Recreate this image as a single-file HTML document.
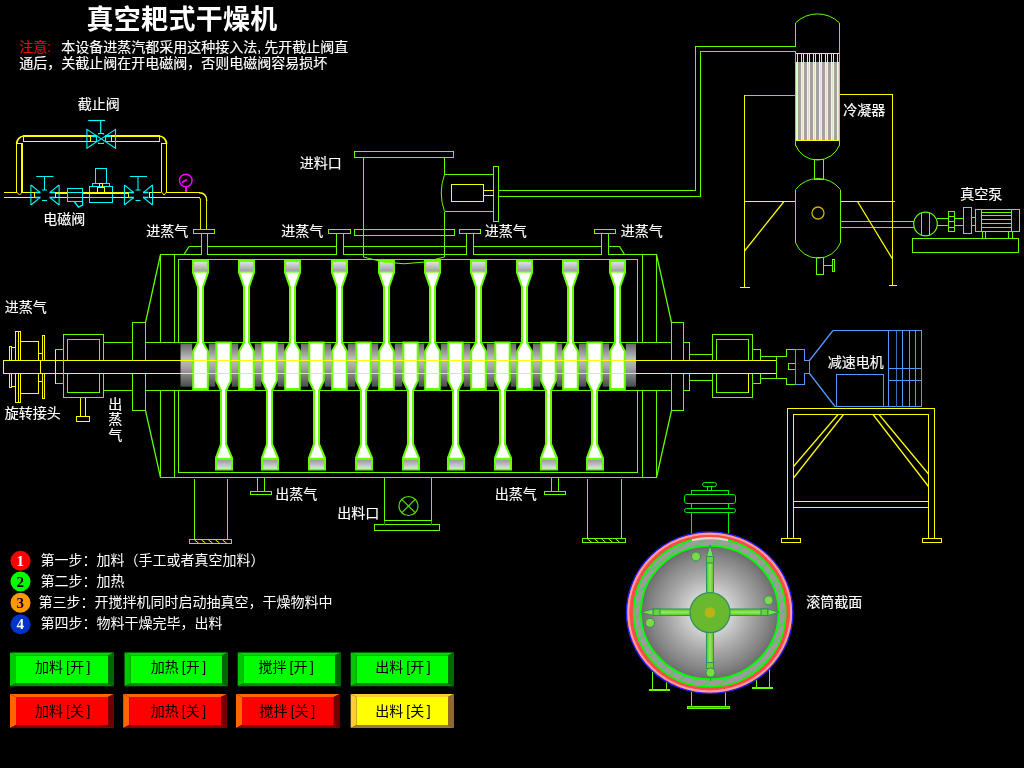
<!DOCTYPE html>
<html lang="zh-CN">
<head>
<meta charset="utf-8">
<title>真空耙式干燥机</title>
<style>
html,body{margin:0;padding:0;background:#000;overflow:hidden;}
body{width:1024px;height:768px;position:relative;font-family:"Liberation Sans", "Noto Sans CJK SC", sans-serif;}
svg{position:absolute;left:0;top:0;display:block;will-change:transform;}
svg text{font-family:"Liberation Sans", "Noto Sans CJK SC", sans-serif;white-space:pre;}
.crisp{shape-rendering:crispEdges;}
</style>
</head>
<body>
<svg width="1024" height="768" viewBox="0 0 1024 768">
<defs>
<linearGradient id="gDrum" x1="0" y1="0" x2="0" y2="1">
<stop offset="0" stop-color="#666666"/><stop offset="0.36" stop-color="#c0c0c0"/><stop offset="0.55" stop-color="#a6a6a6"/><stop offset="1" stop-color="#4a4a4a"/>
</linearGradient>
<linearGradient id="gHead" x1="0" y1="0" x2="0" y2="1">
<stop offset="0" stop-color="#e0e0e0"/><stop offset="1" stop-color="#a2a2a2"/>
</linearGradient>
<linearGradient id="gFoot" x1="0" y1="0" x2="0" y2="1">
<stop offset="0" stop-color="#969696"/><stop offset="1" stop-color="#dedede"/>
</linearGradient>
<radialGradient id="gBall" cx="0.5" cy="0.5" r="0.5">
<stop offset="0" stop-color="#e8e8e8"/><stop offset="0.3" stop-color="#d2d2d2"/><stop offset="0.6" stop-color="#a6a6a6"/><stop offset="0.85" stop-color="#848484"/><stop offset="1" stop-color="#6c6c6c"/>
</radialGradient>
<linearGradient id="gArmV" x1="0" y1="0" x2="1" y2="0">
<stop offset="0" stop-color="#5cc02c"/><stop offset="0.5" stop-color="#90ee50"/><stop offset="1" stop-color="#5cc02c"/>
</linearGradient>
<linearGradient id="gArmH" x1="0" y1="0" x2="0" y2="1">
<stop offset="0" stop-color="#5cc02c"/><stop offset="0.5" stop-color="#90ee50"/><stop offset="1" stop-color="#5cc02c"/>
</linearGradient>
<pattern id="hatch" width="9.5" height="9.5" patternUnits="userSpaceOnUse" patternTransform="rotate(-38)">
<rect x="0" y="0" width="9.5" height="9.5" fill="#9c9c9c"/><line x1="0" y1="4.5" x2="9.5" y2="4.5" stroke="#18e830" stroke-width="0.9"/>
</pattern>
</defs>
<rect x="0" y="0" width="1024" height="768" fill="#000"/>
<text x="86.5" y="29.3" font-size="27" fill="#ffffff" font-weight="bold" letter-spacing="0.3">真空耙式干燥机</text>
<g transform="translate(-0.3,-0.5)" stroke-width="0.15">
<text y="52.5" font-size="14" fill="#ffffff" stroke="#ffffff"><tspan x="19.5" fill="#ff0000" stroke="#ff0000">注意:</tspan><tspan x="61.5">本设备进蒸汽都采用这种接入法</tspan><tspan x="257.5">,</tspan><tspan x="264.5">先开截止阀直</tspan></text>
<g stroke="#ffffff">
<text x="19.5" y="68.5" font-size="14" fill="#ffffff">通后，关截止阀在开电磁阀，否则电磁阀容易损坏</text>
<text x="78" y="109.5" font-size="14" fill="#ffffff">截止阀</text>
<text x="43.5" y="224.5" font-size="14" fill="#ffffff">电磁阀</text>
<text x="146.5" y="236.5" font-size="14" fill="#ffffff">进蒸气</text>
<text x="281.5" y="236.5" font-size="14" fill="#ffffff">进蒸气</text>
<text x="485" y="236.5" font-size="14" fill="#ffffff">进蒸气</text>
<text x="621" y="236.5" font-size="14" fill="#ffffff">进蒸气</text>
<text x="300" y="168.5" font-size="14" fill="#ffffff">进料口</text>
<text x="5" y="312.5" font-size="14" fill="#ffffff">进蒸气</text>
<text x="5" y="418.5" font-size="14" fill="#ffffff">旋转接头</text>
<text x="108.5" font-size="14" fill="#ffffff"><tspan x="108.5" y="409">出</tspan><tspan x="108.5" y="424.5">蒸</tspan><tspan x="108.5" y="440.5">气</tspan></text>
<text x="275.5" y="499.5" font-size="14" fill="#ffffff">出蒸气</text>
<text x="495" y="499.5" font-size="14" fill="#ffffff">出蒸气</text>
<text x="337.5" y="518" font-size="14" fill="#ffffff">出料口</text>
<text x="843.5" y="115.5" font-size="14" fill="#ffffff">冷凝器</text>
<text x="960.5" y="199.5" font-size="14" fill="#ffffff">真空泵</text>
<text x="828" y="367.5" font-size="14" fill="#ffffff">减速电机</text>
<text x="806.5" y="607.5" font-size="14" fill="#ffffff">滚筒截面</text>
</g></g>
<g class="crisp">
<rect x="24" y="135" width="67" height="2" fill="#ffff00"/>
<rect x="24" y="141" width="67" height="1" fill="#ffff00"/>
<rect x="23" y="135" width="1" height="7" fill="#ffff00"/>
<rect x="90" y="135" width="1" height="7" fill="#ffff00"/>
<rect x="111" y="135" width="48" height="2" fill="#ffff00"/>
<rect x="111" y="141" width="48" height="1" fill="#ffff00"/>
<rect x="111" y="135" width="1" height="7" fill="#ffff00"/>
<rect x="159" y="135" width="1" height="7" fill="#ffff00"/>
<rect x="16" y="143" width="1" height="50" fill="#ffff00"/>
<rect x="21" y="143" width="2" height="50" fill="#ffff00"/>
<rect x="16" y="143" width="7" height="1" fill="#ffff00"/>
<rect x="161" y="143" width="1" height="49" fill="#ffff00"/>
<rect x="166" y="143" width="1" height="50" fill="#ffff00"/>
<rect x="161" y="143" width="6" height="1" fill="#ffff00"/>
<rect x="4" y="192" width="12" height="1" fill="#ffff00"/>
<rect x="23" y="192" width="12" height="1" fill="#ffff00"/>
<rect x="4" y="196.5" width="31" height="1.5" fill="#ffff00"/>
<rect x="34" y="192" width="1" height="6" fill="#ffff00"/>
<rect x="55" y="192" width="12" height="1.5" fill="#ffff00"/>
<rect x="55" y="196.5" width="12" height="1.5" fill="#ffff00"/>
<rect x="55" y="192" width="1" height="6" fill="#ffff00"/>
<rect x="82" y="192" width="8" height="1.5" fill="#ffff00"/>
<rect x="82" y="196.5" width="8" height="1.5" fill="#ffff00"/>
<rect x="113" y="192" width="15.5" height="1.5" fill="#ffff00"/>
<rect x="113" y="196.5" width="15.5" height="1.5" fill="#ffff00"/>
<rect x="127.5" y="192" width="1" height="6" fill="#ffff00"/>
<rect x="148.5" y="192" width="12.5" height="1.2" fill="#ffff00"/>
<rect x="167" y="192" width="33" height="1.2" fill="#ffff00"/>
<rect x="148.5" y="196.5" width="51.5" height="1.5" fill="#ffff00"/>
<rect x="148.5" y="192" width="1" height="6" fill="#ffff00"/>
<rect x="200" y="200" width="1" height="29" fill="#e8e800"/>
<rect x="206" y="200" width="1" height="29" fill="#e8e800"/>
</g>
<path d="M16.7,144 A7.3,8 0 0 1 24,136" stroke="#ffff00" stroke-width="1.7" fill="none"/>
<path d="M159,136 A7.5,8 0 0 1 166.5,144" stroke="#ffff00" stroke-width="1.7" fill="none"/>
<path d="M199,192.7 Q206.7,192.7 206.7,201" stroke="#ffff00" stroke-width="1.4" fill="none"/>
<path d="M199,197.5 Q200.5,197.5 200.5,200" stroke="#ffff00" stroke-width="1" fill="none"/>
<polyline points="16.5,192 19.5,195 22.5,192" stroke="#ffff00" stroke-width="1" fill="none"/>
<polyline points="161.5,192 164,195 166.5,192" stroke="#ffff00" stroke-width="1" fill="none"/>
<polygon points="86.9,129.4 86.9,148.2 115.5,129.4 115.5,148.2" stroke="#00ffff" stroke-width="1.1" fill="none"/>
<line x1="88.2" y1="120.5" x2="105.2" y2="120.5" stroke="#00ffff" stroke-width="1.2"/>
<line x1="100.7" y1="120.5" x2="100.7" y2="133.3" stroke="#00ffff" stroke-width="1.2"/>
<circle cx="101" cy="138.5" r="5" stroke="#00b8b8" stroke-width="1" fill="none" stroke-dasharray="2.5 1.5"/>
<g class="crisp">
<rect x="91" y="135" width="5" height="2" fill="#00ffff"/>
<rect x="91" y="141" width="5" height="1" fill="#00ffff"/>
<rect x="106" y="135" width="5" height="2" fill="#00ffff"/>
<rect x="106" y="141" width="5" height="1" fill="#00ffff"/>
<rect x="96" y="135" width="1" height="7" fill="#00ffff"/>
<rect x="105" y="135" width="1" height="7" fill="#00ffff"/>
<rect x="98" y="133" width="6" height="1" fill="#00ffff"/>
<rect x="98" y="143" width="6" height="1" fill="#00ffff"/>
</g>
<line x1="30.9" y1="185" x2="30.9" y2="205" stroke="#00ffff" stroke-width="1.05"/>
<line x1="59.1" y1="185" x2="59.1" y2="205" stroke="#00ffff" stroke-width="1.05"/>
<line x1="30.9" y1="185" x2="40" y2="192.3" stroke="#00ffff" stroke-width="1.05"/>
<line x1="30.9" y1="205" x2="40" y2="197.6" stroke="#00ffff" stroke-width="1.05"/>
<line x1="59.1" y1="185" x2="50" y2="192.3" stroke="#00ffff" stroke-width="1.05"/>
<line x1="59.1" y1="205" x2="50" y2="197.6" stroke="#00ffff" stroke-width="1.05"/>
<line x1="35" y1="192.5" x2="40.5" y2="192.5" stroke="#00ffff" stroke-width="1.6"/>
<line x1="35" y1="197.5" x2="40.5" y2="197.5" stroke="#00ffff" stroke-width="1.6"/>
<line x1="49.5" y1="192.5" x2="55" y2="192.5" stroke="#00ffff" stroke-width="1.6"/>
<line x1="49.5" y1="197.5" x2="55" y2="197.5" stroke="#00ffff" stroke-width="1.6"/>
<line x1="36.3" y1="176.5" x2="53.5" y2="176.5" stroke="#00ffff" stroke-width="1.05"/>
<line x1="44.5" y1="176.5" x2="44.5" y2="190" stroke="#00ffff" stroke-width="1.05"/>
<line x1="42" y1="190" x2="47" y2="190" stroke="#00ffff" stroke-width="1.05"/>
<line x1="42" y1="200.5" x2="47" y2="200.5" stroke="#00ffff" stroke-width="1.05"/>
<line x1="124.4" y1="185" x2="124.4" y2="205" stroke="#00ffff" stroke-width="1.05"/>
<line x1="152.6" y1="185" x2="152.6" y2="205" stroke="#00ffff" stroke-width="1.05"/>
<line x1="124.4" y1="185" x2="133.5" y2="192.3" stroke="#00ffff" stroke-width="1.05"/>
<line x1="124.4" y1="205" x2="133.5" y2="197.6" stroke="#00ffff" stroke-width="1.05"/>
<line x1="152.6" y1="185" x2="143.5" y2="192.3" stroke="#00ffff" stroke-width="1.05"/>
<line x1="152.6" y1="205" x2="143.5" y2="197.6" stroke="#00ffff" stroke-width="1.05"/>
<line x1="128.5" y1="192.5" x2="134" y2="192.5" stroke="#00ffff" stroke-width="1.6"/>
<line x1="128.5" y1="197.5" x2="134" y2="197.5" stroke="#00ffff" stroke-width="1.6"/>
<line x1="143" y1="192.5" x2="148.5" y2="192.5" stroke="#00ffff" stroke-width="1.6"/>
<line x1="143" y1="197.5" x2="148.5" y2="197.5" stroke="#00ffff" stroke-width="1.6"/>
<line x1="129.8" y1="176.5" x2="147" y2="176.5" stroke="#00ffff" stroke-width="1.05"/>
<line x1="138" y1="176.5" x2="138" y2="190" stroke="#00ffff" stroke-width="1.05"/>
<line x1="135.5" y1="190" x2="140.5" y2="190" stroke="#00ffff" stroke-width="1.05"/>
<line x1="135.5" y1="200.5" x2="140.5" y2="200.5" stroke="#00ffff" stroke-width="1.05"/>
<g class="crisp">
<rect x="67.5" y="188.5" width="15" height="13" stroke="#00ffff" stroke-width="1" fill="none"/>
<line x1="67.5" y1="197.5" x2="82.5" y2="197.5" stroke="#00ffff" stroke-width="1"/>
<line x1="67.5" y1="192.5" x2="82.5" y2="192.5" stroke="#00ffff" stroke-width="1"/>
</g>
<polyline points="74.3,201.5 78.4,207.2 82.6,205 82.6,201.5" stroke="#00ffff" stroke-width="1.3" fill="none"/>
<g class="crisp">
<rect x="89.5" y="186.5" width="23" height="16" stroke="#00ffff" stroke-width="1" fill="none"/>
<line x1="89.5" y1="197.5" x2="112.5" y2="197.5" stroke="#00ffff" stroke-width="1"/>
<rect x="89" y="192" width="24" height="2" fill="#ffff00"/>
<rect x="95.5" y="168.5" width="11" height="15" stroke="#00ffff" stroke-width="1" fill="none"/>
<rect x="92.5" y="183.5" width="17" height="3" stroke="#00ffff" stroke-width="1" fill="none"/>
<rect x="97.5" y="187.5" width="7" height="5" stroke="#ffff00" stroke-width="1" fill="none"/>
<rect x="99.5" y="183.5" width="3" height="4" stroke="#ffff00" stroke-width="1" fill="none"/>
</g>
<circle cx="185.8" cy="180.5" r="6.3" stroke="#ff00ff" stroke-width="1.4" fill="none"/>
<line x1="182" y1="182.5" x2="187" y2="179.5" stroke="#ff00ff" stroke-width="1.6"/>
<rect x="185" y="187" width="2" height="5" fill="#ff00ff" class="crisp"/>
<g class="crisp">
<rect x="193.5" y="229.5" width="21" height="4" stroke="#66ff00" stroke-width="1" fill="none"/>
<line x1="201.5" y1="233.5" x2="201.5" y2="255" stroke="#66ff00" stroke-width="1"/>
<line x1="207.5" y1="233.5" x2="207.5" y2="255" stroke="#66ff00" stroke-width="1"/>
<rect x="328.5" y="229.5" width="21.5" height="4" stroke="#66ff00" stroke-width="1" fill="none"/>
<line x1="336.5" y1="233.5" x2="336.5" y2="255" stroke="#66ff00" stroke-width="1"/>
<line x1="343.5" y1="233.5" x2="343.5" y2="255" stroke="#66ff00" stroke-width="1"/>
<rect x="459.5" y="229.5" width="20.5" height="4" stroke="#66ff00" stroke-width="1" fill="none"/>
<line x1="466.5" y1="233.5" x2="466.5" y2="255" stroke="#66ff00" stroke-width="1"/>
<line x1="473.5" y1="233.5" x2="473.5" y2="255" stroke="#66ff00" stroke-width="1"/>
<rect x="594.5" y="229.5" width="21" height="4" stroke="#66ff00" stroke-width="1" fill="none"/>
<line x1="601.5" y1="233.5" x2="601.5" y2="255" stroke="#66ff00" stroke-width="1"/>
<line x1="608.5" y1="233.5" x2="608.5" y2="255" stroke="#66ff00" stroke-width="1"/>
<line x1="189" y1="246.5" x2="201.5" y2="246.5" stroke="#66ff00" stroke-width="1"/>
<line x1="207.5" y1="246.5" x2="336.5" y2="246.5" stroke="#66ff00" stroke-width="1"/>
<line x1="343.5" y1="246.5" x2="466.5" y2="246.5" stroke="#66ff00" stroke-width="1"/>
<line x1="473.5" y1="246.5" x2="601.5" y2="246.5" stroke="#66ff00" stroke-width="1"/>
<line x1="608.5" y1="246.5" x2="619.5" y2="246.5" stroke="#66ff00" stroke-width="1"/>
<line x1="160" y1="254.5" x2="201.5" y2="254.5" stroke="#66ff00" stroke-width="1"/>
<line x1="207.5" y1="254.5" x2="336.5" y2="254.5" stroke="#66ff00" stroke-width="1"/>
<line x1="343.5" y1="254.5" x2="466.5" y2="254.5" stroke="#66ff00" stroke-width="1"/>
<line x1="473.5" y1="254.5" x2="601.5" y2="254.5" stroke="#66ff00" stroke-width="1"/>
<line x1="608.5" y1="254.5" x2="657" y2="254.5" stroke="#66ff00" stroke-width="1"/>
<line x1="160" y1="477.5" x2="657" y2="477.5" stroke="#66ff00" stroke-width="1"/>
<line x1="178" y1="259.5" x2="638" y2="259.5" stroke="#66ff00" stroke-width="1"/>
<line x1="178" y1="472.5" x2="638" y2="472.5" stroke="#66ff00" stroke-width="1"/>
<line x1="160.5" y1="254.5" x2="160.5" y2="342.5" stroke="#66ff00" stroke-width="1"/>
<line x1="160.5" y1="390.5" x2="160.5" y2="477.5" stroke="#66ff00" stroke-width="1"/>
<line x1="174.5" y1="254.5" x2="174.5" y2="342.5" stroke="#66ff00" stroke-width="1"/>
<line x1="174.5" y1="390.5" x2="174.5" y2="477.5" stroke="#66ff00" stroke-width="1"/>
<line x1="178.5" y1="259.5" x2="178.5" y2="342.5" stroke="#66ff00" stroke-width="1"/>
<line x1="178.5" y1="390.5" x2="178.5" y2="472.5" stroke="#66ff00" stroke-width="1"/>
<line x1="637.5" y1="259.5" x2="637.5" y2="342.5" stroke="#66ff00" stroke-width="1"/>
<line x1="637.5" y1="390.5" x2="637.5" y2="472.5" stroke="#66ff00" stroke-width="1"/>
<line x1="642.5" y1="254.5" x2="642.5" y2="342.5" stroke="#66ff00" stroke-width="1"/>
<line x1="642.5" y1="390.5" x2="642.5" y2="477.5" stroke="#66ff00" stroke-width="1"/>
<line x1="656.5" y1="254.5" x2="656.5" y2="342.5" stroke="#66ff00" stroke-width="1"/>
<line x1="656.5" y1="390.5" x2="656.5" y2="477.5" stroke="#66ff00" stroke-width="1"/>
<line x1="104" y1="342.5" x2="132.5" y2="342.5" stroke="#66ff00" stroke-width="1"/>
<line x1="145.5" y1="342.5" x2="671.5" y2="342.5" stroke="#66ff00" stroke-width="1"/>
<line x1="683.5" y1="342.5" x2="690" y2="342.5" stroke="#66ff00" stroke-width="1"/>
<line x1="104" y1="390.5" x2="132.5" y2="390.5" stroke="#66ff00" stroke-width="1"/>
<line x1="145.5" y1="390.5" x2="671.5" y2="390.5" stroke="#66ff00" stroke-width="1"/>
<line x1="683.5" y1="390.5" x2="690" y2="390.5" stroke="#66ff00" stroke-width="1"/>
<rect x="132.5" y="322.5" width="13" height="88" stroke="#66ff00" stroke-width="1" fill="none"/>
<rect x="671.5" y="322.5" width="12" height="88" stroke="#66ff00" stroke-width="1" fill="none"/>
<line x1="689.5" y1="342.5" x2="689.5" y2="390.5" stroke="#66ff00" stroke-width="1"/>
<line x1="689.5" y1="354.5" x2="712.5" y2="354.5" stroke="#66ff00" stroke-width="1"/>
<line x1="689.5" y1="380.5" x2="712.5" y2="380.5" stroke="#66ff00" stroke-width="1"/>
<rect x="63.5" y="334.5" width="40" height="63" stroke="#66ff00" stroke-width="1" fill="none"/>
<rect x="67.5" y="339.5" width="32" height="53" stroke="#66ff00" stroke-width="1" fill="none"/>
<rect x="55.5" y="349.5" width="8" height="34" stroke="#66ff00" stroke-width="1" fill="none"/>
<rect x="712.5" y="334.5" width="40" height="63" stroke="#66ff00" stroke-width="1" fill="none"/>
<rect x="716.5" y="339.5" width="32" height="53" stroke="#66ff00" stroke-width="1" fill="none"/>
<rect x="752.5" y="349.5" width="8" height="34" stroke="#66ff00" stroke-width="1" fill="none"/>
<line x1="748.5" y1="373.5" x2="748.5" y2="392.5" stroke="#ffff00" stroke-width="1"/>
<polyline points="760.5,356.5 786.5,356.5 786.5,349.5 795,349.5" stroke="#66ff00" stroke-width="1" fill="none"/>
<polyline points="760.5,378.5 786.5,378.5 786.5,384.5 795,384.5" stroke="#66ff00" stroke-width="1" fill="none"/>
<line x1="776.5" y1="356.5" x2="776.5" y2="378.5" stroke="#66ff00" stroke-width="1"/>
<polyline points="795,363.5 788.5,363.5 788.5,369.5 795,369.5" stroke="#66ff00" stroke-width="1" fill="none"/>
</g>
<line x1="160.5" y1="254.5" x2="145.5" y2="322.5" stroke="#66ff00" stroke-width="1.25"/>
<line x1="145.5" y1="410.5" x2="160.5" y2="477.5" stroke="#66ff00" stroke-width="1.25"/>
<line x1="656.5" y1="254.5" x2="671.5" y2="322.5" stroke="#66ff00" stroke-width="1.25"/>
<line x1="671.5" y1="410.5" x2="656.5" y2="477.5" stroke="#66ff00" stroke-width="1.25"/>
<line x1="189" y1="246.5" x2="184" y2="254.5" stroke="#66ff00" stroke-width="1.25"/>
<line x1="619.5" y1="246.5" x2="624.5" y2="254.5" stroke="#66ff00" stroke-width="1.25"/>
<rect x="180.5" y="343.5" width="455.5" height="43.2" fill="url(#gDrum)"/>
<rect x="192.2" y="343" width="16.6" height="8.5" fill="#000"/>
<rect x="238.2" y="343" width="16.6" height="8.5" fill="#000"/>
<rect x="284.2" y="343" width="16.6" height="8.5" fill="#000"/>
<rect x="331.2" y="343" width="16.6" height="8.5" fill="#000"/>
<rect x="378.2" y="343" width="16.6" height="8.5" fill="#000"/>
<rect x="424.2" y="343" width="16.6" height="8.5" fill="#000"/>
<rect x="470.2" y="343" width="16.6" height="8.5" fill="#000"/>
<rect x="516.2" y="343" width="16.6" height="8.5" fill="#000"/>
<rect x="562.2" y="343" width="16.6" height="8.5" fill="#000"/>
<rect x="609.2" y="343" width="16.6" height="8.5" fill="#000"/>
<rect x="215.3" y="380.5" width="16.4" height="7.5" fill="#000"/>
<rect x="261.3" y="380.5" width="16.4" height="7.5" fill="#000"/>
<rect x="308.3" y="380.5" width="16.4" height="7.5" fill="#000"/>
<rect x="355.3" y="380.5" width="16.4" height="7.5" fill="#000"/>
<rect x="402.3" y="380.5" width="16.4" height="7.5" fill="#000"/>
<rect x="447.3" y="380.5" width="16.4" height="7.5" fill="#000"/>
<rect x="494.3" y="380.5" width="16.4" height="7.5" fill="#000"/>
<rect x="540.3" y="380.5" width="16.4" height="7.5" fill="#000"/>
<rect x="586.3" y="380.5" width="16.4" height="7.5" fill="#000"/>
<polygon points="193,261 208,261 208,272.5 203,287 203,342.5 207.8,351 207.8,389 193.2,389 193.2,351 198,342.5 198,287 193,272.5" stroke="#66ff00" stroke-width="2" fill="#ffffff" stroke-linejoin="miter"/>
<rect x="194" y="262" width="13" height="9" fill="url(#gHead)"/>
<rect x="194" y="271" width="13" height="1.6" fill="#66ff00"/>
<polygon points="239,261 254,261 254,272.5 249,287 249,342.5 253.8,351 253.8,389 239.2,389 239.2,351 244,342.5 244,287 239,272.5" stroke="#66ff00" stroke-width="2" fill="#ffffff" stroke-linejoin="miter"/>
<rect x="240" y="262" width="13" height="9" fill="url(#gHead)"/>
<rect x="240" y="271" width="13" height="1.6" fill="#66ff00"/>
<polygon points="285,261 300,261 300,272.5 295,287 295,342.5 299.8,351 299.8,389 285.2,389 285.2,351 290,342.5 290,287 285,272.5" stroke="#66ff00" stroke-width="2" fill="#ffffff" stroke-linejoin="miter"/>
<rect x="286" y="262" width="13" height="9" fill="url(#gHead)"/>
<rect x="286" y="271" width="13" height="1.6" fill="#66ff00"/>
<polygon points="332,261 347,261 347,272.5 342,287 342,342.5 346.8,351 346.8,389 332.2,389 332.2,351 337,342.5 337,287 332,272.5" stroke="#66ff00" stroke-width="2" fill="#ffffff" stroke-linejoin="miter"/>
<rect x="333" y="262" width="13" height="9" fill="url(#gHead)"/>
<rect x="333" y="271" width="13" height="1.6" fill="#66ff00"/>
<polygon points="379,261 394,261 394,272.5 389,287 389,342.5 393.8,351 393.8,389 379.2,389 379.2,351 384,342.5 384,287 379,272.5" stroke="#66ff00" stroke-width="2" fill="#ffffff" stroke-linejoin="miter"/>
<rect x="380" y="262" width="13" height="9" fill="url(#gHead)"/>
<rect x="380" y="271" width="13" height="1.6" fill="#66ff00"/>
<polygon points="425,261 440,261 440,272.5 435,287 435,342.5 439.8,351 439.8,389 425.2,389 425.2,351 430,342.5 430,287 425,272.5" stroke="#66ff00" stroke-width="2" fill="#ffffff" stroke-linejoin="miter"/>
<rect x="426" y="262" width="13" height="9" fill="url(#gHead)"/>
<rect x="426" y="271" width="13" height="1.6" fill="#66ff00"/>
<polygon points="471,261 486,261 486,272.5 481,287 481,342.5 485.8,351 485.8,389 471.2,389 471.2,351 476,342.5 476,287 471,272.5" stroke="#66ff00" stroke-width="2" fill="#ffffff" stroke-linejoin="miter"/>
<rect x="472" y="262" width="13" height="9" fill="url(#gHead)"/>
<rect x="472" y="271" width="13" height="1.6" fill="#66ff00"/>
<polygon points="517,261 532,261 532,272.5 527,287 527,342.5 531.8,351 531.8,389 517.2,389 517.2,351 522,342.5 522,287 517,272.5" stroke="#66ff00" stroke-width="2" fill="#ffffff" stroke-linejoin="miter"/>
<rect x="518" y="262" width="13" height="9" fill="url(#gHead)"/>
<rect x="518" y="271" width="13" height="1.6" fill="#66ff00"/>
<polygon points="563,261 578,261 578,272.5 573,287 573,342.5 577.8,351 577.8,389 563.2,389 563.2,351 568,342.5 568,287 563,272.5" stroke="#66ff00" stroke-width="2" fill="#ffffff" stroke-linejoin="miter"/>
<rect x="564" y="262" width="13" height="9" fill="url(#gHead)"/>
<rect x="564" y="271" width="13" height="1.6" fill="#66ff00"/>
<polygon points="610,261 625,261 625,272.5 620,287 620,342.5 624.8,351 624.8,389 610.2,389 610.2,351 615,342.5 615,287 610,272.5" stroke="#66ff00" stroke-width="2" fill="#ffffff" stroke-linejoin="miter"/>
<rect x="611" y="262" width="13" height="9" fill="url(#gHead)"/>
<rect x="611" y="271" width="13" height="1.6" fill="#66ff00"/>
<polygon points="216.3,342.5 230.7,342.5 230.7,381 226,390.5 226,444 232,458 232,469.5 216,469.5 216,458 221,444 221,390.5 216.3,381" stroke="#66ff00" stroke-width="2" fill="#ffffff" stroke-linejoin="miter"/>
<rect x="217" y="459.3" width="14" height="9.2" fill="url(#gFoot)"/>
<rect x="217" y="457.8" width="14" height="1.5" fill="#66ff00"/>
<polygon points="262.3,342.5 276.7,342.5 276.7,381 272,390.5 272,444 278,458 278,469.5 262,469.5 262,458 267,444 267,390.5 262.3,381" stroke="#66ff00" stroke-width="2" fill="#ffffff" stroke-linejoin="miter"/>
<rect x="263" y="459.3" width="14" height="9.2" fill="url(#gFoot)"/>
<rect x="263" y="457.8" width="14" height="1.5" fill="#66ff00"/>
<polygon points="309.3,342.5 323.7,342.5 323.7,381 319,390.5 319,444 325,458 325,469.5 309,469.5 309,458 314,444 314,390.5 309.3,381" stroke="#66ff00" stroke-width="2" fill="#ffffff" stroke-linejoin="miter"/>
<rect x="310" y="459.3" width="14" height="9.2" fill="url(#gFoot)"/>
<rect x="310" y="457.8" width="14" height="1.5" fill="#66ff00"/>
<polygon points="356.3,342.5 370.7,342.5 370.7,381 366,390.5 366,444 372,458 372,469.5 356,469.5 356,458 361,444 361,390.5 356.3,381" stroke="#66ff00" stroke-width="2" fill="#ffffff" stroke-linejoin="miter"/>
<rect x="357" y="459.3" width="14" height="9.2" fill="url(#gFoot)"/>
<rect x="357" y="457.8" width="14" height="1.5" fill="#66ff00"/>
<polygon points="403.3,342.5 417.7,342.5 417.7,381 413,390.5 413,444 419,458 419,469.5 403,469.5 403,458 408,444 408,390.5 403.3,381" stroke="#66ff00" stroke-width="2" fill="#ffffff" stroke-linejoin="miter"/>
<rect x="404" y="459.3" width="14" height="9.2" fill="url(#gFoot)"/>
<rect x="404" y="457.8" width="14" height="1.5" fill="#66ff00"/>
<polygon points="448.3,342.5 462.7,342.5 462.7,381 458,390.5 458,444 464,458 464,469.5 448,469.5 448,458 453,444 453,390.5 448.3,381" stroke="#66ff00" stroke-width="2" fill="#ffffff" stroke-linejoin="miter"/>
<rect x="449" y="459.3" width="14" height="9.2" fill="url(#gFoot)"/>
<rect x="449" y="457.8" width="14" height="1.5" fill="#66ff00"/>
<polygon points="495.3,342.5 509.7,342.5 509.7,381 505,390.5 505,444 511,458 511,469.5 495,469.5 495,458 500,444 500,390.5 495.3,381" stroke="#66ff00" stroke-width="2" fill="#ffffff" stroke-linejoin="miter"/>
<rect x="496" y="459.3" width="14" height="9.2" fill="url(#gFoot)"/>
<rect x="496" y="457.8" width="14" height="1.5" fill="#66ff00"/>
<polygon points="541.3,342.5 555.7,342.5 555.7,381 551,390.5 551,444 557,458 557,469.5 541,469.5 541,458 546,444 546,390.5 541.3,381" stroke="#66ff00" stroke-width="2" fill="#ffffff" stroke-linejoin="miter"/>
<rect x="542" y="459.3" width="14" height="9.2" fill="url(#gFoot)"/>
<rect x="542" y="457.8" width="14" height="1.5" fill="#66ff00"/>
<polygon points="587.3,342.5 601.7,342.5 601.7,381 597,390.5 597,444 603,458 603,469.5 587,469.5 587,458 592,444 592,390.5 587.3,381" stroke="#66ff00" stroke-width="2" fill="#ffffff" stroke-linejoin="miter"/>
<rect x="588" y="459.3" width="14" height="9.2" fill="url(#gFoot)"/>
<rect x="588" y="457.8" width="14" height="1.5" fill="#66ff00"/>
<g class="crisp">
<rect x="4" y="361" width="176" height="12" fill="#000"/>
<rect x="636.5" y="361" width="139.5" height="12" fill="#000"/>
<line x1="3" y1="360.5" x2="776" y2="360.5" stroke="#ffff00" stroke-width="1"/>
<line x1="3" y1="373.5" x2="776" y2="373.5" stroke="#ffff00" stroke-width="1"/>
<line x1="63.5" y1="360" x2="63.5" y2="374" stroke="#66ff00" stroke-width="1"/>
<line x1="3.5" y1="360.5" x2="3.5" y2="373.5" stroke="#ffff00" stroke-width="1"/>
<line x1="40.5" y1="360.5" x2="40.5" y2="373.5" stroke="#ffff00" stroke-width="1"/>
<line x1="15.5" y1="331.5" x2="15.5" y2="360.5" stroke="#ffff00" stroke-width="1"/>
<line x1="18.5" y1="331.5" x2="18.5" y2="360.5" stroke="#ffff00" stroke-width="1"/>
<line x1="20.5" y1="331.5" x2="20.5" y2="360.5" stroke="#ffff00" stroke-width="1"/>
<line x1="15.5" y1="373.5" x2="15.5" y2="402.5" stroke="#ffff00" stroke-width="1"/>
<line x1="18.5" y1="373.5" x2="18.5" y2="402.5" stroke="#ffff00" stroke-width="1"/>
<line x1="20.5" y1="373.5" x2="20.5" y2="402.5" stroke="#ffff00" stroke-width="1"/>
<line x1="15" y1="331.5" x2="21" y2="331.5" stroke="#ffff00" stroke-width="1"/>
<line x1="15" y1="402.5" x2="21" y2="402.5" stroke="#ffff00" stroke-width="1"/>
<line x1="9.5" y1="346.5" x2="9.5" y2="360.5" stroke="#ffff00" stroke-width="1"/>
<line x1="11.5" y1="346.5" x2="11.5" y2="360.5" stroke="#ffff00" stroke-width="1"/>
<line x1="9.5" y1="373.5" x2="9.5" y2="387.5" stroke="#ffff00" stroke-width="1"/>
<line x1="11.5" y1="373.5" x2="11.5" y2="387.5" stroke="#ffff00" stroke-width="1"/>
<line x1="9" y1="346.5" x2="12" y2="346.5" stroke="#ffff00" stroke-width="1"/>
<line x1="9" y1="387.5" x2="12" y2="387.5" stroke="#ffff00" stroke-width="1"/>
<line x1="11.5" y1="347.5" x2="15.5" y2="347.5" stroke="#ffff00" stroke-width="1"/>
<line x1="11.5" y1="386.5" x2="15.5" y2="386.5" stroke="#ffff00" stroke-width="1"/>
<polyline points="20.5,341.5 38.5,341.5 38.5,360.5" stroke="#ffff00" stroke-width="1" fill="none"/>
<polyline points="20.5,393.5 38.5,393.5 38.5,373.5" stroke="#ffff00" stroke-width="1" fill="none"/>
<line x1="42.5" y1="335.5" x2="42.5" y2="360.5" stroke="#ffff00" stroke-width="1"/>
<line x1="44.5" y1="335.5" x2="44.5" y2="360.5" stroke="#ffff00" stroke-width="1"/>
<line x1="42.5" y1="373.5" x2="42.5" y2="398.5" stroke="#ffff00" stroke-width="1"/>
<line x1="44.5" y1="373.5" x2="44.5" y2="398.5" stroke="#ffff00" stroke-width="1"/>
<line x1="42" y1="335.5" x2="45" y2="335.5" stroke="#ffff00" stroke-width="1"/>
<line x1="42" y1="398.5" x2="45" y2="398.5" stroke="#ffff00" stroke-width="1"/>
<line x1="38.5" y1="353.5" x2="42.5" y2="353.5" stroke="#ffff00" stroke-width="1"/>
<line x1="38.5" y1="381.5" x2="42.5" y2="381.5" stroke="#ffff00" stroke-width="1"/>
<line x1="55.5" y1="349.5" x2="55.5" y2="383.5" stroke="#ffff00" stroke-width="1"/>
<line x1="80.5" y1="397.5" x2="80.5" y2="416.5" stroke="#ffff00" stroke-width="1"/>
<line x1="85.5" y1="397.5" x2="85.5" y2="416.5" stroke="#ffff00" stroke-width="1"/>
<rect x="76.5" y="416.5" width="13" height="5" stroke="#ffff00" stroke-width="1" fill="none"/>
</g>
<g class="crisp">
<rect x="354.5" y="151.5" width="99" height="6" stroke="#66ff00" stroke-width="1" fill="none"/>
<line x1="363.5" y1="157.5" x2="363.5" y2="257" stroke="#66ff00" stroke-width="1"/>
<line x1="444.5" y1="157.5" x2="444.5" y2="174.5" stroke="#66ff00" stroke-width="1"/>
<line x1="444.5" y1="211.5" x2="444.5" y2="257" stroke="#66ff00" stroke-width="1"/>
<rect x="354.5" y="229.5" width="100" height="6" stroke="#66ff00" stroke-width="1" fill="none"/>
<line x1="444.5" y1="174.5" x2="493.5" y2="174.5" stroke="#66ff00" stroke-width="1"/>
<line x1="444.5" y1="211.5" x2="493.5" y2="211.5" stroke="#66ff00" stroke-width="1"/>
<rect x="493.5" y="166.5" width="5" height="55" stroke="#66ff00" stroke-width="1" fill="none"/>
<rect x="451.5" y="184.5" width="32" height="17" stroke="#ffff00" stroke-width="1" fill="none"/>
<line x1="483.5" y1="190.5" x2="494" y2="190.5" stroke="#ffff00" stroke-width="1"/>
<line x1="483.5" y1="195.5" x2="494" y2="195.5" stroke="#ffff00" stroke-width="1"/>
<polyline points="498.5,190.5 695.5,190.5 695.5,46.5 796,46.5" stroke="#66ff00" stroke-width="1" fill="none"/>
<polyline points="498.5,196.5 700.5,196.5 700.5,51.5 796,51.5" stroke="#66ff00" stroke-width="1" fill="none"/>
</g>
<path d="M363.5,257 Q404,270.5 444.5,257" stroke="#66ff00" stroke-width="1" fill="none"/>
<path d="M444.5,174.5 Q438,193 444.5,211.5" stroke="#66ff00" stroke-width="1" fill="none"/>
<g class="crisp">
<line x1="194.5" y1="479" x2="194.5" y2="539.5" stroke="#66ff00" stroke-width="1"/>
<line x1="227.5" y1="479" x2="227.5" y2="539.5" stroke="#66ff00" stroke-width="1"/>
<rect x="189.5" y="539.5" width="42" height="4" stroke="#66ff00" stroke-width="1" fill="none"/>
<line x1="587.5" y1="479" x2="587.5" y2="538.5" stroke="#66ff00" stroke-width="1"/>
<line x1="621.5" y1="479" x2="621.5" y2="538.5" stroke="#66ff00" stroke-width="1"/>
<rect x="582.5" y="538.5" width="43" height="4" stroke="#66ff00" stroke-width="1" fill="none"/>
<line x1="257.5" y1="478" x2="257.5" y2="491.5" stroke="#66ff00" stroke-width="1"/>
<line x1="264.5" y1="478" x2="264.5" y2="491.5" stroke="#66ff00" stroke-width="1"/>
<rect x="250.5" y="491.5" width="21" height="3" stroke="#66ff00" stroke-width="1" fill="none"/>
<line x1="551.5" y1="478" x2="551.5" y2="491.5" stroke="#66ff00" stroke-width="1"/>
<line x1="558.5" y1="478" x2="558.5" y2="491.5" stroke="#66ff00" stroke-width="1"/>
<rect x="544.5" y="491.5" width="21" height="3" stroke="#66ff00" stroke-width="1" fill="none"/>
<line x1="384.5" y1="478" x2="384.5" y2="520.5" stroke="#66ff00" stroke-width="1"/>
<line x1="431.5" y1="478" x2="431.5" y2="520.5" stroke="#66ff00" stroke-width="1"/>
<line x1="384.5" y1="520.5" x2="431.5" y2="520.5" stroke="#66ff00" stroke-width="1"/>
<rect x="374.5" y="524.5" width="65" height="6" stroke="#66ff00" stroke-width="1" fill="none"/>
<line x1="384.5" y1="520.5" x2="384.5" y2="524.5" stroke="#3a9000" stroke-width="1"/>
<line x1="431.5" y1="520.5" x2="431.5" y2="524.5" stroke="#3a9000" stroke-width="1"/>
</g>
<line x1="194.5" y1="540" x2="198.5" y2="543" stroke="#ffff00" stroke-width="1"/>
<line x1="201.5" y1="540" x2="205.5" y2="543" stroke="#ffff00" stroke-width="1"/>
<line x1="208.5" y1="540" x2="212.5" y2="543" stroke="#ffff00" stroke-width="1"/>
<line x1="215.5" y1="540" x2="219.5" y2="543" stroke="#ffff00" stroke-width="1"/>
<line x1="222.5" y1="540" x2="226.5" y2="543" stroke="#ffff00" stroke-width="1"/>
<line x1="587.5" y1="539" x2="591.5" y2="542" stroke="#ffff00" stroke-width="1"/>
<line x1="594.5" y1="539" x2="598.5" y2="542" stroke="#ffff00" stroke-width="1"/>
<line x1="601.5" y1="539" x2="605.5" y2="542" stroke="#ffff00" stroke-width="1"/>
<line x1="608.5" y1="539" x2="612.5" y2="542" stroke="#ffff00" stroke-width="1"/>
<line x1="615.5" y1="539" x2="619.5" y2="542" stroke="#ffff00" stroke-width="1"/>
<circle cx="408.5" cy="506" r="9.5" stroke="#55dd00" stroke-width="1.2" fill="none"/>
<line x1="401.8" y1="499.3" x2="415.2" y2="512.7" stroke="#55dd00" stroke-width="1.2"/>
<line x1="401.8" y1="512.7" x2="415.2" y2="499.3" stroke="#55dd00" stroke-width="1.2"/>
<rect x="796" y="62" width="43" height="78" fill="#a2a2a2"/>
<g class="crisp">
<rect x="796" y="62" width="1" height="78" fill="#d8ffc0"/>
<rect x="838" y="62" width="1" height="78" fill="#e0e0c0"/>
<rect x="797" y="54" width="1" height="8" fill="#ffff00"/>
<rect x="801" y="54" width="1" height="8" fill="#ffff00"/>
<rect x="797" y="62" width="1" height="78" fill="#ffff94"/>
<rect x="801" y="62" width="1" height="78" fill="#ffff94"/>
<rect x="802" y="62" width="1" height="78" fill="#dcdccc"/>
<rect x="803" y="54" width="1" height="8" fill="#ffff00"/>
<rect x="807" y="54" width="1" height="8" fill="#ffff00"/>
<rect x="803" y="62" width="1" height="78" fill="#ffff94"/>
<rect x="807" y="62" width="1" height="78" fill="#ffff94"/>
<rect x="808" y="62" width="1" height="78" fill="#dcdccc"/>
<rect x="809" y="54" width="1" height="8" fill="#ffff00"/>
<rect x="813" y="54" width="1" height="8" fill="#ffff00"/>
<rect x="809" y="62" width="1" height="78" fill="#ffff94"/>
<rect x="813" y="62" width="1" height="78" fill="#ffff94"/>
<rect x="814" y="62" width="1" height="78" fill="#dcdccc"/>
<rect x="815" y="54" width="1" height="8" fill="#ffff00"/>
<rect x="819" y="54" width="1" height="8" fill="#ffff00"/>
<rect x="815" y="62" width="1" height="78" fill="#ffff94"/>
<rect x="819" y="62" width="1" height="78" fill="#ffff94"/>
<rect x="820" y="62" width="1" height="78" fill="#dcdccc"/>
<rect x="821" y="54" width="1" height="8" fill="#ffff00"/>
<rect x="825" y="54" width="1" height="8" fill="#ffff00"/>
<rect x="821" y="62" width="1" height="78" fill="#ffff94"/>
<rect x="825" y="62" width="1" height="78" fill="#ffff94"/>
<rect x="826" y="62" width="1" height="78" fill="#dcdccc"/>
<rect x="827" y="54" width="1" height="8" fill="#ffff00"/>
<rect x="831" y="54" width="1" height="8" fill="#ffff00"/>
<rect x="827" y="62" width="1" height="78" fill="#ffff94"/>
<rect x="831" y="62" width="1" height="78" fill="#ffff94"/>
<rect x="832" y="62" width="1" height="78" fill="#dcdccc"/>
<rect x="833" y="54" width="1" height="8" fill="#ffff00"/>
<rect x="837" y="54" width="1" height="8" fill="#ffff00"/>
<rect x="833" y="62" width="1" height="78" fill="#ffff94"/>
<rect x="837" y="62" width="1" height="78" fill="#ffff94"/>
<rect x="796" y="52.5" width="43" height="1.5" fill="#ffff00"/>
<line x1="796" y1="140.5" x2="839" y2="140.5" stroke="#ffff00" stroke-width="1"/>
<line x1="795.5" y1="22.5" x2="795.5" y2="46.5" stroke="#66ff00" stroke-width="1"/>
<line x1="795.5" y1="51.5" x2="795.5" y2="145.5" stroke="#66ff00" stroke-width="1"/>
<line x1="839.5" y1="22.5" x2="839.5" y2="145.5" stroke="#66ff00" stroke-width="1"/>
<line x1="814.5" y1="159.5" x2="814.5" y2="179.5" stroke="#66ff00" stroke-width="1"/>
<line x1="823.5" y1="159.5" x2="823.5" y2="179.5" stroke="#66ff00" stroke-width="1"/>
<line x1="814.5" y1="159.5" x2="823.5" y2="159.5" stroke="#66ff00" stroke-width="1"/>
<line x1="814.5" y1="179.5" x2="823.5" y2="179.5" stroke="#66ff00" stroke-width="1"/>
<line x1="795.5" y1="189.5" x2="795.5" y2="242.5" stroke="#66ff00" stroke-width="1"/>
<line x1="840.5" y1="189.5" x2="840.5" y2="242.5" stroke="#66ff00" stroke-width="1"/>
<line x1="816.5" y1="257.5" x2="816.5" y2="274.5" stroke="#66ff00" stroke-width="1"/>
<line x1="823.5" y1="257.5" x2="823.5" y2="274.5" stroke="#66ff00" stroke-width="1"/>
<line x1="816.5" y1="274.5" x2="823.5" y2="274.5" stroke="#66ff00" stroke-width="1"/>
<line x1="823.5" y1="265.5" x2="832.5" y2="265.5" stroke="#66ff00" stroke-width="1"/>
<rect x="832.5" y="259.5" width="2" height="12" stroke="#66ff00" stroke-width="1" fill="none"/>
<line x1="841" y1="221.5" x2="913.5" y2="221.5" stroke="#66ff00" stroke-width="1"/>
<line x1="841" y1="227.5" x2="913.5" y2="227.5" stroke="#66ff00" stroke-width="1"/>
<line x1="744.5" y1="95" x2="744.5" y2="287.5" stroke="#ffff00" stroke-width="1"/>
<line x1="892.5" y1="95" x2="892.5" y2="285.5" stroke="#ffff00" stroke-width="1"/>
<line x1="744.5" y1="95.5" x2="795" y2="95.5" stroke="#c8c800" stroke-width="1"/>
<line x1="840" y1="94.5" x2="893" y2="94.5" stroke="#ffff00" stroke-width="1"/>
<line x1="744.5" y1="201.5" x2="795" y2="201.5" stroke="#ffff00" stroke-width="1"/>
<line x1="841" y1="201.5" x2="894.5" y2="201.5" stroke="#ffff00" stroke-width="1"/>
<line x1="740" y1="287.5" x2="750" y2="287.5" stroke="#ffff00" stroke-width="1"/>
<line x1="889" y1="285.5" x2="897" y2="285.5" stroke="#ffff00" stroke-width="1"/>
</g>
<path d="M795.5,22.9 A31.4,31.4 0 0 1 839.5,22.9" stroke="#66ff00" stroke-width="1" fill="none"/>
<path d="M795.5,145 A23.6,23.6 0 0 0 839.5,145" stroke="#66ff00" stroke-width="1" fill="none"/>
<path d="M795.5,189.5 A28.5,28.5 0 0 1 840.5,189.5" stroke="#66ff00" stroke-width="1" fill="none"/>
<path d="M795.5,242.5 A24,24 0 0 0 840.5,242.5" stroke="#66ff00" stroke-width="1" fill="none"/>
<line x1="816.5" y1="257.5" x2="823.5" y2="257.5" stroke="#66ff00" stroke-width="1"/>
<circle cx="818" cy="213" r="6" stroke="#c8b400" stroke-width="1.3" fill="none"/>
<line x1="784" y1="201.5" x2="744.5" y2="251" stroke="#ffff00" stroke-width="1.25"/>
<line x1="857.5" y1="201.5" x2="892.5" y2="259" stroke="#ffff00" stroke-width="1.25"/>
<circle cx="925.5" cy="224" r="11.8" stroke="#66ff00" stroke-width="1.2" fill="none"/>
<g class="crisp">
<line x1="921.5" y1="213" x2="921.5" y2="235" stroke="#66ff00" stroke-width="1"/>
<line x1="929.5" y1="213" x2="929.5" y2="235" stroke="#66ff00" stroke-width="1"/>
<line x1="937" y1="218.5" x2="948.5" y2="218.5" stroke="#66ff00" stroke-width="1"/>
<line x1="937" y1="225.5" x2="948.5" y2="225.5" stroke="#66ff00" stroke-width="1"/>
<line x1="954.5" y1="218.5" x2="963.5" y2="218.5" stroke="#66ff00" stroke-width="1"/>
<line x1="954.5" y1="225.5" x2="963.5" y2="225.5" stroke="#66ff00" stroke-width="1"/>
<rect x="948.5" y="211.5" width="6" height="20" stroke="#66ff00" stroke-width="1" fill="none" rx="1"/>
<line x1="948.5" y1="216.5" x2="954.5" y2="216.5" stroke="#66ff00" stroke-width="1"/>
<line x1="948.5" y1="221.5" x2="954.5" y2="221.5" stroke="#66ff00" stroke-width="1"/>
<line x1="948.5" y1="227.5" x2="954.5" y2="227.5" stroke="#66ff00" stroke-width="1"/>
<rect x="963.5" y="207.5" width="8" height="26" stroke="#66ff00" stroke-width="1" fill="none"/>
<line x1="971.5" y1="217.5" x2="975.5" y2="217.5" stroke="#66ff00" stroke-width="1"/>
<line x1="971.5" y1="225.5" x2="975.5" y2="225.5" stroke="#66ff00" stroke-width="1"/>
<rect x="975.5" y="209.5" width="44" height="22" stroke="#66ff00" stroke-width="1" fill="none"/>
<line x1="981.5" y1="209.5" x2="981.5" y2="231.5" stroke="#66ff00" stroke-width="1"/>
<line x1="1011.5" y1="209.5" x2="1011.5" y2="231.5" stroke="#66ff00" stroke-width="1"/>
<line x1="981.5" y1="212.5" x2="1011.5" y2="212.5" stroke="#66ff00" stroke-width="1"/>
<line x1="981.5" y1="215.5" x2="1011.5" y2="215.5" stroke="#66ff00" stroke-width="1"/>
<line x1="981.5" y1="219.5" x2="1011.5" y2="219.5" stroke="#66ff00" stroke-width="1"/>
<line x1="981.5" y1="223.5" x2="1011.5" y2="223.5" stroke="#66ff00" stroke-width="1"/>
<line x1="981.5" y1="227.5" x2="1011.5" y2="227.5" stroke="#66ff00" stroke-width="1"/>
<line x1="982.5" y1="231.5" x2="982.5" y2="238.5" stroke="#66ff00" stroke-width="1"/>
<line x1="985.5" y1="231.5" x2="985.5" y2="238.5" stroke="#66ff00" stroke-width="1"/>
<line x1="1008.5" y1="231.5" x2="1008.5" y2="238.5" stroke="#66ff00" stroke-width="1"/>
<line x1="1012.5" y1="231.5" x2="1012.5" y2="238.5" stroke="#66ff00" stroke-width="1"/>
<rect x="912.5" y="238.5" width="106" height="14" stroke="#66ff00" stroke-width="1" fill="none"/>
</g>
<g class="crisp">
<polyline points="795,349.5 804.5,349.5 804.5,360.5 809.5,360.5 809.5,373.5 804.5,373.5 804.5,384.5 795,384.5" stroke="#5599ff" stroke-width="1" fill="none"/>
<line x1="795.5" y1="349.5" x2="795.5" y2="384.5" stroke="#5599ff" stroke-width="1"/>
<line x1="833" y1="330.5" x2="921.5" y2="330.5" stroke="#5599ff" stroke-width="1"/>
<line x1="835" y1="406.5" x2="921.5" y2="406.5" stroke="#5599ff" stroke-width="1"/>
<line x1="888.5" y1="330.5" x2="888.5" y2="406.5" stroke="#5599ff" stroke-width="1"/>
<line x1="896.5" y1="330.5" x2="896.5" y2="406.5" stroke="#3a6cb8" stroke-width="1"/>
<line x1="902.5" y1="330.5" x2="902.5" y2="406.5" stroke="#5599ff" stroke-width="1"/>
<line x1="909.5" y1="330.5" x2="909.5" y2="406.5" stroke="#5599ff" stroke-width="1"/>
<line x1="915.5" y1="330.5" x2="915.5" y2="406.5" stroke="#5599ff" stroke-width="1"/>
<line x1="921.5" y1="330.5" x2="921.5" y2="406.5" stroke="#5599ff" stroke-width="1"/>
<line x1="888.5" y1="368.5" x2="921.5" y2="368.5" stroke="#5599ff" stroke-width="1"/>
<line x1="888.5" y1="380.5" x2="921.5" y2="380.5" stroke="#5599ff" stroke-width="1"/>
<polyline points="836.5,406.5 836.5,374.5 883.5,374.5 883.5,406.5" stroke="#5599ff" stroke-width="1" fill="none"/>
</g>
<line x1="833" y1="330.5" x2="809.5" y2="360.5" stroke="#5599ff" stroke-width="1.25"/>
<line x1="809.5" y1="373.5" x2="835" y2="406.5" stroke="#5599ff" stroke-width="1.25"/>
<g class="crisp">
<polyline points="787.5,538.5 787.5,408.5 934.5,408.5 934.5,538.5" stroke="#ffff00" stroke-width="1" fill="none"/>
<polyline points="793.5,538.5 793.5,414.5 928.5,414.5 928.5,538.5" stroke="#ffff00" stroke-width="1" fill="none"/>
<line x1="793.5" y1="501.5" x2="928.5" y2="501.5" stroke="#ffff00" stroke-width="1"/>
<line x1="793.5" y1="507.5" x2="928.5" y2="507.5" stroke="#ffff00" stroke-width="1"/>
<rect x="781.5" y="538.5" width="19" height="4" stroke="#ffff00" stroke-width="1" fill="none"/>
<rect x="922.5" y="538.5" width="19" height="4" stroke="#ffff00" stroke-width="1" fill="none"/>
</g>
<line x1="838" y1="414.5" x2="793.5" y2="466.5" stroke="#ffff00" stroke-width="1.25"/>
<line x1="843.5" y1="414.5" x2="793.5" y2="478" stroke="#ffff00" stroke-width="1.25"/>
<line x1="873" y1="414.5" x2="928.5" y2="486.5" stroke="#ffff00" stroke-width="1.25"/>
<line x1="879" y1="414.5" x2="928.5" y2="474" stroke="#ffff00" stroke-width="1.25"/>
<g class="crisp">
<line x1="691.5" y1="512.5" x2="691.5" y2="536" stroke="#00f000" stroke-width="1"/>
<line x1="728.5" y1="512.5" x2="728.5" y2="536" stroke="#00f000" stroke-width="1"/>
<line x1="691.5" y1="503.5" x2="691.5" y2="508.5" stroke="#00f000" stroke-width="1"/>
<line x1="728.5" y1="503.5" x2="728.5" y2="508.5" stroke="#00f000" stroke-width="1"/>
<polyline points="691.5,494.5 691.5,490.5 728.5,490.5 728.5,494.5" stroke="#00f000" stroke-width="1" fill="none"/>
<rect x="707.5" y="486" width="4" height="4.5" stroke="#00f000" stroke-width="1" fill="#000"/>
<rect x="708" y="486" width="3" height="1" fill="#f0d0e0"/>
</g>
<rect x="684.5" y="494.5" width="51" height="9" stroke="#00f000" stroke-width="1" fill="none" rx="2.5"/>
<rect x="684.5" y="508.5" width="51" height="4" stroke="#00f000" stroke-width="1" fill="none" rx="2"/>
<rect x="702.5" y="482.5" width="14" height="4" stroke="#00f000" stroke-width="1" fill="none" rx="2"/>
<g class="crisp">
<line x1="652.5" y1="660" x2="652.5" y2="689" stroke="#66ff00" stroke-width="1"/>
<line x1="666.5" y1="670" x2="666.5" y2="689" stroke="#66ff00" stroke-width="1"/>
<rect x="649" y="689" width="21" height="2" fill="#66ff00"/>
<line x1="756.5" y1="670" x2="756.5" y2="688" stroke="#66ff00" stroke-width="1"/>
<line x1="769.5" y1="660" x2="769.5" y2="688" stroke="#66ff00" stroke-width="1"/>
<rect x="752" y="687" width="21" height="2" fill="#66ff00"/>
<line x1="691.5" y1="688" x2="691.5" y2="706" stroke="#66ff00" stroke-width="1"/>
<line x1="725.5" y1="688" x2="725.5" y2="706" stroke="#66ff00" stroke-width="1"/>
<rect x="687.5" y="706.5" width="42" height="2" stroke="#66ff00" stroke-width="1" fill="#4aa800"/>
</g>
<ellipse cx="709.7" cy="612.6" rx="83.2" ry="80.7" stroke="#2020ff" stroke-width="1.4" fill="#ff4848"/>
<ellipse cx="709.7" cy="612.6" rx="81.3" ry="78.8" stroke="#ff9c98" stroke-width="2.2" fill="none"/>
<ellipse cx="709.7" cy="612.6" rx="79.3" ry="76.9" stroke="#ff4c4c" stroke-width="1.6" fill="none"/>
<ellipse cx="709.7" cy="612.6" rx="76.1" ry="74.2" stroke="#00ff00" stroke-width="1.6" fill="url(#hatch)"/>
<ellipse cx="709.7" cy="612.6" rx="68.9" ry="66.7" stroke="#00ff00" stroke-width="1.9" fill="url(#gBall)"/>
<path d="M692,540.2 Q710,536.2 728,540.2" stroke="#f0d0d0" stroke-width="2.2" fill="none"/>
<rect x="706.5" y="556.5" width="7" height="40" fill="url(#gArmV)" stroke="#2f9060" stroke-width="1"/>
<rect x="706.5" y="556.5" width="7" height="6.5" fill="#6cd038" stroke="#2f9060" stroke-width="1"/>
<polygon points="706.5,556.5 710,545 713.5,556.5" stroke="#2f9060" stroke-width="1" fill="#7ce048"/>
<rect x="706.5" y="630" width="7" height="38.5" fill="url(#gArmV)" stroke="#2f9060" stroke-width="1"/>
<rect x="706.5" y="662.5" width="7" height="6" fill="#6cd038" stroke="#2f9060" stroke-width="1"/>
<rect x="653" y="609" width="40" height="6.5" fill="url(#gArmH)" stroke="#2f9060" stroke-width="1"/>
<rect x="653" y="609" width="7" height="6.5" fill="#6cd038" stroke="#2f9060" stroke-width="1"/>
<polygon points="653,609 641,612.3 653,615.5" stroke="#2f9060" stroke-width="1" fill="#7ce048"/>
<rect x="728" y="609" width="40" height="6.5" fill="url(#gArmH)" stroke="#2f9060" stroke-width="1"/>
<rect x="761" y="609" width="7" height="6.5" fill="#6cd038" stroke="#2f9060" stroke-width="1"/>
<polygon points="768,609 779,612.3 768,615.5" stroke="#2f9060" stroke-width="1" fill="#7ce048"/>
<circle cx="710" cy="612.6" r="20" stroke="#2f9060" stroke-width="1.2" fill="#68b830"/>
<circle cx="710" cy="612.6" r="5.3" stroke="none" stroke-width="0" fill="#b8b418"/>
<circle cx="696" cy="556.5" r="4.5" stroke="#2f9060" stroke-width="1" fill="#80d848"/>
<circle cx="768.5" cy="600.3" r="4.5" stroke="#2f9060" stroke-width="1" fill="#80d848"/>
<circle cx="650" cy="622.8" r="4.5" stroke="#2f9060" stroke-width="1" fill="#80d848"/>
<circle cx="710.5" cy="672.5" r="4.5" stroke="#2f9060" stroke-width="1" fill="#80d848"/>
<line x1="710.5" y1="677" x2="710.5" y2="681" stroke="#2f9060" stroke-width="1"/>
<circle cx="20.5" cy="560.8" r="10" stroke="none" stroke-width="0" fill="#ff0000"/>
<text x="20.3" y="565.8" font-size="15" fill="#ffffff" style="font-family:'Liberation Serif',serif;font-weight:bold" text-anchor="middle">1</text>
<text x="40.5" y="564.5" font-size="14" fill="#ffffff">第一步：加料（手工或者真空加料）</text>
<circle cx="20.5" cy="581.5" r="10" stroke="none" stroke-width="0" fill="#00ff00"/>
<text x="20.3" y="586.5" font-size="15" fill="#000000" style="font-family:'Liberation Serif',serif;font-weight:bold" text-anchor="middle">2</text>
<text x="40.5" y="585.7" font-size="14" fill="#ffffff">第二步：加热</text>
<circle cx="20.5" cy="602.7" r="10" stroke="none" stroke-width="0" fill="#ff9900"/>
<text x="20.3" y="607.7" font-size="15" fill="#000040" style="font-family:'Liberation Serif',serif;font-weight:bold" text-anchor="middle">3</text>
<text x="38.5" y="606.5" font-size="14" fill="#ffffff">第三步：开搅拌机同时启动抽真空，干燥物料中</text>
<circle cx="20.5" cy="624.2" r="10" stroke="none" stroke-width="0" fill="#0033cc"/>
<text x="20.3" y="629.2" font-size="15" fill="#ffffff" style="font-family:'Liberation Serif',serif;font-weight:bold" text-anchor="middle">4</text>
<text x="40.5" y="627.5" font-size="14" fill="#ffffff">第四步：物料干燥完毕，出料</text>
<polygon points="10,652.5 114,652.5 108,655.5 16,655.5" stroke="none" stroke-width="0" fill="#00d800"/>
<polygon points="10,652.5 16,655.5 16,683.3 10,686.3" stroke="none" stroke-width="0" fill="#00c800"/>
<polygon points="114,652.5 114,686.3 108,683.3 108,655.5" stroke="none" stroke-width="0" fill="#006800"/>
<polygon points="10,686.3 16,683.3 108,683.3 114,686.3" stroke="none" stroke-width="0" fill="#008c00"/>
<rect x="16" y="655.5" width="92" height="27.8" fill="#00ff00"/>
<text y="672.3" font-size="14" fill="#000"><tspan x="35">加料</tspan><tspan x="68" dy="-0.5" text-anchor="middle">[</tspan><tspan x="70" dy="0.5">开</tspan><tspan x="88.5" dy="-0.5" text-anchor="middle">]</tspan></text>
<polygon points="124.5,652.5 228,652.5 222,655.5 130.5,655.5" stroke="none" stroke-width="0" fill="#00d800"/>
<polygon points="124.5,652.5 130.5,655.5 130.5,683.3 124.5,686.3" stroke="none" stroke-width="0" fill="#00c800"/>
<polygon points="228,652.5 228,686.3 222,683.3 222,655.5" stroke="none" stroke-width="0" fill="#006800"/>
<polygon points="124.5,686.3 130.5,683.3 222,683.3 228,686.3" stroke="none" stroke-width="0" fill="#008c00"/>
<rect x="130.5" y="655.5" width="91.5" height="27.8" fill="#00ff00"/>
<text y="672.3" font-size="14" fill="#000"><tspan x="150.7">加热</tspan><tspan x="183.7" dy="-0.5" text-anchor="middle">[</tspan><tspan x="185.7" dy="0.5">开</tspan><tspan x="204.2" dy="-0.5" text-anchor="middle">]</tspan></text>
<polygon points="237.7,652.5 341,652.5 335,655.5 243.7,655.5" stroke="none" stroke-width="0" fill="#00d800"/>
<polygon points="237.7,652.5 243.7,655.5 243.7,683.3 237.7,686.3" stroke="none" stroke-width="0" fill="#00c800"/>
<polygon points="341,652.5 341,686.3 335,683.3 335,655.5" stroke="none" stroke-width="0" fill="#006800"/>
<polygon points="237.7,686.3 243.7,683.3 335,683.3 341,686.3" stroke="none" stroke-width="0" fill="#008c00"/>
<rect x="243.7" y="655.5" width="91.3" height="27.8" fill="#00ff00"/>
<text y="672.3" font-size="14" fill="#000"><tspan x="258.4">搅拌</tspan><tspan x="291.4" dy="-0.5" text-anchor="middle">[</tspan><tspan x="293.4" dy="0.5">开</tspan><tspan x="311.9" dy="-0.5" text-anchor="middle">]</tspan></text>
<polygon points="350.7,652.5 454,652.5 448,655.5 356.7,655.5" stroke="none" stroke-width="0" fill="#00d800"/>
<polygon points="350.7,652.5 356.7,655.5 356.7,683.3 350.7,686.3" stroke="none" stroke-width="0" fill="#00c800"/>
<polygon points="454,652.5 454,686.3 448,683.3 448,655.5" stroke="none" stroke-width="0" fill="#006800"/>
<polygon points="350.7,686.3 356.7,683.3 448,683.3 454,686.3" stroke="none" stroke-width="0" fill="#008c00"/>
<rect x="356.7" y="655.5" width="91.3" height="27.8" fill="#00ff00"/>
<text y="672.3" font-size="14" fill="#000"><tspan x="375.2">出料</tspan><tspan x="408.2" dy="-0.5" text-anchor="middle">[</tspan><tspan x="410.2" dy="0.5">开</tspan><tspan x="428.7" dy="-0.5" text-anchor="middle">]</tspan></text>
<polygon points="10,694 114,694 108,697 16,697" stroke="none" stroke-width="0" fill="#ff6600"/>
<polygon points="10,694 16,697 16,725 10,728" stroke="none" stroke-width="0" fill="#ff6600"/>
<polygon points="114,694 114,728 108,725 108,697" stroke="none" stroke-width="0" fill="#700000"/>
<polygon points="10,728 16,725 108,725 114,728" stroke="none" stroke-width="0" fill="#800000"/>
<rect x="16" y="697" width="92" height="28" fill="#ff0000"/>
<text y="716" font-size="14" fill="#000"><tspan x="35">加料</tspan><tspan x="68" dy="-0.5" text-anchor="middle">[</tspan><tspan x="70" dy="0.5">关</tspan><tspan x="88.5" dy="-0.5" text-anchor="middle">]</tspan></text>
<polygon points="123.2,694 227,694 221,697 129.2,697" stroke="none" stroke-width="0" fill="#ff6600"/>
<polygon points="123.2,694 129.2,697 129.2,725 123.2,728" stroke="none" stroke-width="0" fill="#ff6600"/>
<polygon points="227,694 227,728 221,725 221,697" stroke="none" stroke-width="0" fill="#700000"/>
<polygon points="123.2,728 129.2,725 221,725 227,728" stroke="none" stroke-width="0" fill="#800000"/>
<rect x="129.2" y="697" width="91.8" height="28" fill="#ff0000"/>
<text y="716" font-size="14" fill="#000"><tspan x="150.7">加热</tspan><tspan x="183.7" dy="-0.5" text-anchor="middle">[</tspan><tspan x="185.7" dy="0.5">关</tspan><tspan x="204.2" dy="-0.5" text-anchor="middle">]</tspan></text>
<polygon points="236,694 339.8,694 333.8,697 242,697" stroke="none" stroke-width="0" fill="#ff6600"/>
<polygon points="236,694 242,697 242,725 236,728" stroke="none" stroke-width="0" fill="#ff6600"/>
<polygon points="339.8,694 339.8,728 333.8,725 333.8,697" stroke="none" stroke-width="0" fill="#700000"/>
<polygon points="236,728 242,725 333.8,725 339.8,728" stroke="none" stroke-width="0" fill="#800000"/>
<rect x="242" y="697" width="91.8" height="28" fill="#ff0000"/>
<text y="716" font-size="14" fill="#000"><tspan x="259.6">搅拌</tspan><tspan x="292.6" dy="-0.5" text-anchor="middle">[</tspan><tspan x="294.6" dy="0.5">关</tspan><tspan x="313.1" dy="-0.5" text-anchor="middle">]</tspan></text>
<polygon points="350.7,694 454,694 448,697 356.7,697" stroke="none" stroke-width="0" fill="#ffcc33"/>
<polygon points="350.7,694 356.7,697 356.7,725 350.7,728" stroke="none" stroke-width="0" fill="#ffcc33"/>
<polygon points="454,694 454,728 448,725 448,697" stroke="none" stroke-width="0" fill="#906830"/>
<polygon points="350.7,728 356.7,725 448,725 454,728" stroke="none" stroke-width="0" fill="#a07838"/>
<rect x="356.7" y="697" width="91.3" height="28" fill="#ffff00"/>
<text y="716" font-size="14" fill="#000"><tspan x="375.2">出料</tspan><tspan x="408.2" dy="-0.5" text-anchor="middle">[</tspan><tspan x="410.2" dy="0.5">关</tspan><tspan x="428.7" dy="-0.5" text-anchor="middle">]</tspan></text>
</svg>
</body>
</html>
